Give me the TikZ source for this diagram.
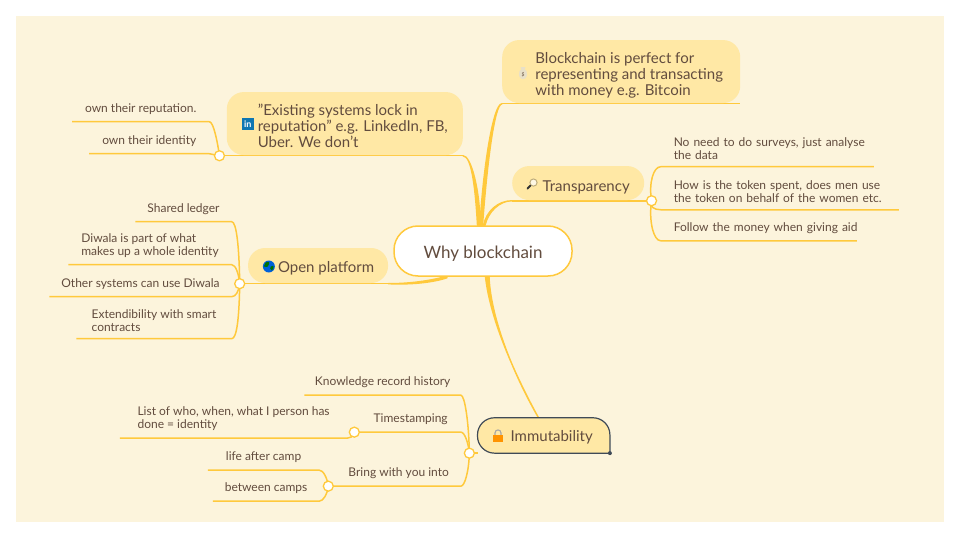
\documentclass[tikz,border=0pt]{standalone}
\usepackage{fontspec}
\setmainfont{Lato}
\usetikzlibrary{positioning,backgrounds}
\definecolor{mapwhite}{RGB}{255,255,255}
\definecolor{mappaper}{RGB}{252,244,220}
\definecolor{mapline}{RGB}{255,201,60}
\definecolor{maptopic}{RGB}{255,232,165}
\definecolor{maptext}{RGB}{98,76,62}
\definecolor{mapdark}{RGB}{63,74,87}
\definecolor{mapbag}{RGB}{232,224,200}
\definecolor{mapin}{RGB}{14,118,178}
\newcommand{\topictext}[2]{\hspace*{16pt}\raisebox{-#1}[\height][\depth]{#2}}
\newcommand{\leafpad}{\hspace*{13pt}}
\tikzset{
  rootbox/.style={
    draw=mapline,
    fill=mapwhite,
    line width=1.5pt,
    rounded corners=24pt,
    text=maptext,
    font=\fontsize{17}{20}\selectfont,
    minimum width=178pt,
    minimum height=50pt,
    inner sep=0pt
  },
  topicbox/.style={
    fill=maptopic,
    rounded corners=17pt,
    text=maptext,
    font=\fontsize{15}{16}\selectfont,
    inner sep=0pt,
    outer ysep=0.7pt
  },
  leafbox/.style={
    text=maptext,
    align=left,
    font=\fontsize{12}{13}\selectfont,
    inner xsep=0pt,
    inner ysep=7pt
  },
  hubdot/.style={
    circle,
    draw=mapline,
    fill=mapwhite,
    line width=1.3pt,
    minimum size=10pt,
    inner sep=0pt
  },
  branch/.style={draw=mapline, line width=1.5pt, line join=round},
  trunk/.style={draw=mapline, fill=mapline, line width=1.4pt, line join=round},
  linkedin/.style={
    fill=mapin,
    text=white,
    font=\fontsize{9}{9}\selectfont\bfseries,
    minimum size=12pt,
    inner sep=0pt
  },
  moneybag/.pic={
    \fill[mapbag] (-3.5,-2) .. controls (-5,3) and (-3,6) .. (0,6) .. controls (3,6) and (5,3) .. (3.5,-2) -- (1.5,-4) -- (2.5,-6) -- (-2.5,-6) -- (-1.5,-4) -- cycle;
    \node[text=maptext, font=\fontsize{5}{5}\selectfont, inner sep=0pt] (-sign) at (0,1.5) {\$};
  },
  lensicon/.pic={
    \draw[black!25!maptopic, fill=white!70!maptopic, line width=1pt] (1.5,-1.5) circle (3.6pt);
    \draw[black!80, line width=2pt, line cap=round] (-1.5,1.5) -- (-4.5,4.5);
  },
  globeicon/.pic={
    \fill[blue!55!cyan!85!black] (0,0) circle (6pt);
    \fill[green!45!black] (-3,-4) .. controls (0,-6) and (2,-3) .. (0,-2) .. controls (-1,1) and (-3,1) .. (-5,0) -- cycle;
    \fill[green!45!black] (2,0) .. controls (5,-2) and (6,1) .. (3,4) .. controls (1,3) and (1,1) .. (2,0) -- cycle;
  },
  lockicon/.pic={
    \draw[black!35, line width=1.1pt] (-3,-1) -- (-3,-3.5) .. controls (-3,-7.5) and (3,-7.5) .. (3,-3.5) -- (3,-1);
    \fill[orange!85!yellow] (-5,-1.5) rectangle (5,6);
  }
}
\begin{document}
\begin{tikzpicture}[x=1pt, y=-1pt]
  \useasboundingbox (0,0) rectangle (960,540);

  \node[rootbox] (why) at (483,251) {\raisebox{-2.5pt}[\height][\depth]{Why blockchain}};

  \node[topicbox, minimum width=236pt, minimum height=63pt, above left=69.5pt and 20pt of why.north] (exist) {\topictext{4.5pt}{\begin{tabular}{@{}l@{}}"Existing systems lock in\\reputation" e.g. LinkedIn, FB,\\Uber. We don't\end{tabular}}};
  \node[topicbox, minimum width=238pt, minimum height=63pt, above right=121.5pt and 19pt of why.north] (money) {\topictext{4.5pt}{\begin{tabular}{@{}l@{}}Blockchain is perfect for\\representing and transacting\\with money e.g. Bitcoin\end{tabular}}};
  \node[topicbox, minimum width=132pt, minimum height=34pt, above right=24.5pt and 29pt of why.north] (transp) {\topictext{4pt}{Transparency}};
  \node[topicbox, minimum width=140pt, minimum height=35pt, left=5pt of why.west, yshift=-14.5pt] (openpf) {\topictext{2.5pt}{Open platform}};
  \node[topicbox, fill=none, minimum width=132pt, minimum height=34pt, below right=141pt and -5.5pt of why.south] (immut) {\topictext{2pt}{Immutability}};

  \node[hubdot, left=1.5pt of exist.south west] (hubexist) {};
  \node[hubdot, right=1.5pt of transp.south east] (hubtransp) {};
  \node[hubdot, left=2.5pt of openpf.south west] (hubopen) {};
  \node[hubdot, left=2.5pt of immut.south west] (hubimmut) {};

  \node[leafbox, minimum width=137pt, above left=34pt and 10pt of hubexist.center] (ownrep) {own their reputation.};
  \node[leafbox, minimum width=120pt, above left=2pt and 10pt of hubexist.center] (ownid) {own their identity};

  \node[leafbox, text width=213pt, above right=34pt and 9pt of hubtransp.center] (surveys) {\leafpad No need to do surveys, just analyse\\\leafpad the data};
  \node[leafbox, text width=238pt, above right=-9pt and 9pt of hubtransp.center] (token) {\leafpad How is the token spent, does men use\\\leafpad the token on behalf of the women etc.};
  \node[leafbox, text width=196pt, above right=-40pt and 9pt of hubtransp.center] (follow) {\leafpad\mbox{Follow the money when giving aid}};

  \node[leafbox, minimum width=96pt, above left=62pt and 8pt of hubopen.center] (ledger) {Shared ledger};
  \node[leafbox, minimum width=163pt, above left=19pt and 8pt of hubopen.center] (diwala) {Diwala is part of what\\makes up a whole identity};
  \node[leafbox, minimum width=182pt, above left=-13pt and 8pt of hubopen.center] (others) {Other systems can use Diwala};
  \node[leafbox, minimum width=155pt, above left=-55pt and 8pt of hubopen.center] (extend) {Extendibility with smart\\contracts};

  \node[leafbox, minimum width=156pt, above left=58pt and 8.5pt of hubimmut.center] (history) {Knowledge record history};
  \node[leafbox, minimum width=100pt, above left=21pt and 8.5pt of hubimmut.center] (stamp) {Timestamping};
  \node[leafbox, minimum width=124pt, above left=-33pt and 8.5pt of hubimmut.center] (bring) {Bring with you into};

  \node[hubdot, left=0.5pt of stamp.south west] (hubstamp) {};
  \node[hubdot, left=2.5pt of bring.south west] (hubbring) {};

  \node[leafbox, minimum width=227pt, above left=-6pt and 7pt of hubstamp.center] (who) {List of who, when, what I person has\\done = identity};
  \node[leafbox, minimum width=111pt, above left=16pt and 9pt of hubbring.center] (after) {life after camp};
  \node[leafbox, minimum width=106pt, above left=-15pt and 9pt of hubbring.center] (between) {between camps};

  \node[linkedin, right=15pt of exist.west, yshift=-0.5pt] (inlogo) {in};
  \pic at ([xshift=21pt,yshift=-1.5pt]money.west) {moneybag};
  \pic at ([xshift=20pt,yshift=-1pt]transp.west) {lensicon};
  \pic at ([xshift=21pt,yshift=-1pt]openpf.west) {globeicon};
  \pic at ([xshift=20.5pt,yshift=-1pt]immut.west) {lockicon};

  \begin{scope}[on background layer]
    \fill[mapwhite] (0,0) rectangle (960,540);
    \fill[mappaper] (16,16) rectangle (944,522);

    \draw[trunk] ([xshift=-5.5pt]why.north) .. controls +(-2,-35) and +(9,0) .. (exist.south east) .. controls +(8,0) and +(0,-35) .. ([xshift=-3pt]why.north) -- cycle;
    \draw[trunk] ([xshift=-3pt]why.north) .. controls +(3,-55) and +(-9,0) .. (money.south west) .. controls +(-8,0) and +(4,-55) .. ([xshift=-0.5pt]why.north) -- cycle;
    \draw[trunk] ([xshift=0.5pt]why.north) .. controls +(3,-14) and +(-14,0) .. (transp.south west) .. controls +(-13,0) and +(3,-13) .. ([xshift=2pt]why.north) -- cycle;
    \draw[trunk] ([xshift=-38pt]why.south) .. controls +(-15,4) and +(22,0) .. (openpf.south east) .. controls +(22,1) and +(-15,5) .. ([xshift=-36pt,yshift=-1pt]why.south) -- cycle;
    \draw[trunk] ([xshift=2.5pt]why.south) .. controls +(5,45) and +(-22,-40) .. ([xshift=61pt]immut.north west) .. controls +(-22,-38) and +(2,45) .. ([xshift=6pt]why.south) -- cycle;

    \draw[branch] (hubexist.center) -- (exist.south east);
    \draw[branch] (money.south west) -- (money.south east);
    \draw[branch] (transp.south west) -- (hubtransp.center);
    \draw[branch] (hubopen.center) -- (openpf.south east);
    \draw[branch] (hubimmut.center) -- (immut.south west);

    \draw[branch] (hubexist.center) .. controls +(-2,-14) and +(4,0) .. (ownrep.south east) -- (ownrep.south west);
    \draw[branch] (hubexist.center) -- (ownid.south east) -- (ownid.south west);

    \draw[branch] (hubtransp.center) .. controls +(-3,-18) and +(-7,0) .. (surveys.south west) -- (surveys.south east);
    \draw[branch] (hubtransp.center) .. controls +(-3,6) and +(-6,0) .. (token.south west) -- (token.south east);
    \draw[branch] (hubtransp.center) .. controls +(-3,20) and +(-7,0) .. (follow.south west) -- (follow.south east);

    \draw[branch] (hubopen.center) .. controls +(-0.5,-35) and +(5,0) .. (ledger.south east) -- (ledger.south west);
    \draw[branch] (hubopen.center) .. controls +(-1,-10) and +(4,0) .. (diwala.south east) -- (diwala.south west);
    \draw[branch] (hubopen.center) .. controls +(-1,8) and +(4,0) .. (others.south east) -- (others.south west);
    \draw[branch] (hubopen.center) .. controls +(-0.5,35) and +(5,0) .. (extend.south east) -- (extend.south west);

    \draw[branch] (hubimmut.center) .. controls +(-0.5,-30) and +(4,0) .. (history.south east) -- (history.south west);
    \draw[branch] (hubimmut.center) .. controls +(-1,-10) and +(4,0) .. (stamp.south east) -- (hubstamp.center);
    \draw[branch] (hubimmut.center) .. controls +(-0.5,18) and +(4,0) .. (bring.south east) -- (hubbring.center);

    \draw[branch] (hubstamp.center) .. controls +(-2,5) and +(3,0) .. (who.south east) -- (who.south west);
    \draw[branch] (hubbring.center) .. controls +(-1,-8) and +(4,0) .. (after.south east) -- (after.south west);
    \draw[branch] (hubbring.center) .. controls +(-1,8) and +(4,0) .. (between.south east) -- (between.south west);

    \draw[draw=mapdark, fill=maptopic, line width=1.2pt, rounded corners=17pt] (immut.south east) -- (immut.south west) -- (immut.north west) -- (immut.north east) -- (immut.south east);
    \fill[mapdark] (immut.south east) circle (2pt);
  \end{scope}
\end{tikzpicture}
\end{document}
